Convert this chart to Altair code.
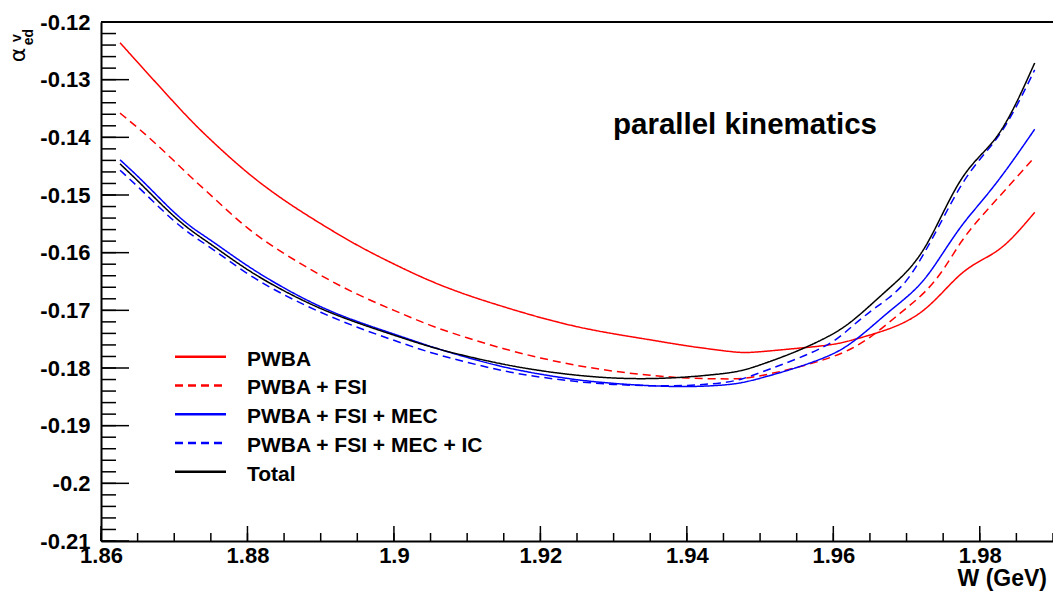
import altair as alt
import pandas as pd

# ---------------- data ----------------
W = [1.8626, 1.865, 1.8675, 1.87, 1.8725, 1.875, 1.88, 1.885, 1.89, 1.895,
     1.90, 1.905, 1.91, 1.915, 1.92, 1.925, 1.93, 1.935, 1.94, 1.945,
     1.9475, 1.95, 1.955, 1.96, 1.9625, 1.965, 1.9675, 1.97, 1.9725, 1.975,
     1.9775, 1.98, 1.9825, 1.985, 1.9875]

pwba = [-0.1236, -0.1270, -0.1305, -0.1340, -0.1374, -0.1405, -0.1463, -0.1510, -0.1550, -0.1588,
        -0.1620, -0.1650, -0.1674, -0.1694, -0.1713, -0.1729, -0.1741, -0.1751, -0.1762, -0.1770,
        -0.1774, -0.1772, -0.1766, -0.1760, -0.1752, -0.1743, -0.1733, -0.1720, -0.1700, -0.1668,
        -0.1634, -0.1614, -0.1598, -0.1568, -0.1530]

pwba_fsi = [-0.1358, -0.1383, -0.1411, -0.1441, -0.1472, -0.1500, -0.1560, -0.1602, -0.1640, -0.1673,
            -0.1700, -0.1727, -0.1748, -0.1767, -0.1783, -0.1796, -0.1806, -0.1813, -0.1818, -0.1819,
            -0.1819, -0.1814, -0.1800, -0.1781, -0.1767, -0.1748, -0.1722, -0.1696, -0.1670, -0.1632,
            -0.1578, -0.1540, -0.1505, -0.1470, -0.1434]

pwba_fsi_mec = [-0.1439, -0.1467, -0.1499, -0.1531, -0.1558, -0.1578, -0.1624, -0.1662, -0.1695, -0.1720,
                -0.1741, -0.1763, -0.1782, -0.1799, -0.1811, -0.1821, -0.1827, -0.1831, -0.1833, -0.1830,
                -0.1826, -0.1818, -0.1800, -0.1777, -0.1757, -0.1731, -0.1703, -0.1678, -0.1648, -0.1600,
                -0.1552, -0.1515, -0.1476, -0.1432, -0.1386]

pwba_fsi_mec_ic = [-0.1457, -0.1485, -0.1516, -0.1546, -0.1571, -0.1591, -0.1638, -0.1674, -0.1704, -0.1730,
                   -0.1752, -0.1774, -0.1790, -0.1806, -0.1816, -0.1824, -0.1829, -0.1831, -0.1831, -0.1826,
                   -0.1820, -0.1808, -0.1785, -0.1757, -0.1728, -0.1702, -0.1680, -0.1652, -0.1600, -0.1540,
                   -0.1480, -0.1437, -0.1402, -0.1348, -0.1283]

total = [-0.1446, -0.1475, -0.1507, -0.1538, -0.1564, -0.1585, -0.1631, -0.1667, -0.1698, -0.1722,
         -0.1743, -0.1764, -0.1780, -0.1794, -0.1805, -0.1813, -0.1818, -0.1819, -0.1816, -0.1810,
         -0.1805, -0.1795, -0.1772, -0.1742, -0.1720, -0.1692, -0.1663, -0.1635, -0.1595, -0.1530,
         -0.1468, -0.1432, -0.1400, -0.1342, -0.1271]

series_names = ["PWBA", "PWBA + FSI", "PWBA + FSI + MEC", "PWBA + FSI + MEC + IC", "Total"]
series_values = [pwba, pwba_fsi, pwba_fsi_mec, pwba_fsi_mec_ic, total]
series_colors = ["#ff0000", "#ff0000", "#0000ff", "#0000ff", "#000000"]
series_dashes = [[1, 0], [8, 5], [1, 0], [8, 5], [1, 0]]

x_major = [1.86, 1.88, 1.90, 1.92, 1.94, 1.96, 1.98]
x_minor = [round(1.86 + 0.005 * i, 3) for i in range(27)]
y_major = [-0.21, -0.20, -0.19, -0.18, -0.17, -0.16, -0.15, -0.14, -0.13, -0.12]
y_minor = [round(-0.21 + 0.002 * i, 3) for i in range(46)]

# ---------------- layout ----------------
PW, PH = 952, 519
FONT = "Liberation Sans"

rows = []
for name, vals in zip(series_names, series_values):
    for w, v in zip(W, vals):
        rows.append({"W": w, "alpha": v, "series": name})
df = pd.DataFrame(rows)

xscale = alt.Scale(domain=[1.86, 1.99], nice=False, zero=False)
yscale = alt.Scale(domain=[-0.21, -0.12], nice=False, zero=False)

x_axis = alt.Axis(values=x_major, title=None, ticks=False, grid=False,
                  domainColor="black", domainWidth=2,
                  labelExpr="format(datum.value, '.3~f')",
                  labelFont=FONT, labelFontSize=22, labelFontWeight="bold",
                  labelColor="black", labelPadding=4, labelFlush=False, labelOverlap=False)
y_axis = alt.Axis(values=y_major, title=None, ticks=False, grid=False,
                  domainColor="black", domainWidth=2,
                  labelExpr="'-' + format(abs(datum.value), '.3~f')",
                  labelFont=FONT, labelFontSize=22, labelFontWeight="bold",
                  labelColor="black", labelPadding=11, labelFlush=False, labelOverlap=False)

lines = alt.Chart(df).mark_line(strokeWidth=1.5, interpolate="basis").encode(
    x=alt.X("W:Q", scale=xscale, axis=x_axis),
    y=alt.Y("alpha:Q", scale=yscale, axis=y_axis),
    color=alt.Color("series:N", scale=alt.Scale(domain=series_names, range=series_colors), legend=None),
    strokeDash=alt.StrokeDash("series:N", scale=alt.Scale(domain=series_names, range=series_dashes), legend=None),
    detail="series:N",
)

# inward ticks
ymaj = alt.Chart(pd.DataFrame({"v": y_major})).mark_rule(color="black", strokeWidth=1.5).encode(
    y=alt.Y("v:Q", scale=yscale, axis=y_axis), x=alt.value(0), x2=alt.value(28))
ymin = alt.Chart(pd.DataFrame({"v": y_minor})).mark_rule(color="black", strokeWidth=1.5).encode(
    y=alt.Y("v:Q", scale=yscale, axis=y_axis), x=alt.value(0), x2=alt.value(15))
xmaj = alt.Chart(pd.DataFrame({"v": x_major})).mark_rule(color="black", strokeWidth=1.5).encode(
    x=alt.X("v:Q", scale=xscale, axis=x_axis), y=alt.value(PH), y2=alt.value(PH - 15))
xmin = alt.Chart(pd.DataFrame({"v": x_minor})).mark_rule(color="black", strokeWidth=1.5).encode(
    x=alt.X("v:Q", scale=xscale, axis=x_axis), y=alt.value(PH), y2=alt.value(PH - 8))

one = pd.DataFrame({"a": [0]})
top_line = alt.Chart(one).mark_rule(color="black", strokeWidth=2).encode(
    x=alt.value(0), x2=alt.value(PW), y=alt.value(0))

# legend
legend_layers = []
for i, (name, col, dash) in enumerate(zip(series_names, series_colors, series_dashes)):
    ly = 334.7 + i * 28.75
    legend_layers.append(
        alt.Chart(one).mark_rule(color=col, strokeWidth=2.5, strokeDash=dash).encode(
            x=alt.value(74), x2=alt.value(125), y=alt.value(ly)))
    legend_layers.append(
        alt.Chart(one).mark_text(align="left", baseline="middle", font=FONT, fontSize=21,
                                 fontWeight="bold", color="black").encode(
            x=alt.value(146), y=alt.value(ly + 3), text=alt.value(name)))

annot = alt.Chart(one).mark_text(align="center", baseline="alphabetic", font=FONT, fontSize=29.5,
                                 fontWeight="bold", color="black").encode(
    x=alt.value(644), y=alt.value(112), text=alt.value("parallel kinematics"))

xtitle = alt.Chart(one).mark_text(align="right", baseline="alphabetic", font=FONT, fontSize=23,
                                  fontWeight="bold", color="black").encode(
    x=alt.value(946), y=alt.value(564), text=alt.value("W (GeV)"))

ytitle_a = alt.Chart(one).mark_text(align="center", baseline="middle", font="DejaVu Sans", fontSize=22,
                                    angle=270, color="black").encode(
    x=alt.value(-83), y=alt.value(33), text=alt.value("α"))
ytitle_v = alt.Chart(one).mark_text(align="center", baseline="middle", font=FONT, fontSize=14,
                                    fontWeight="bold", angle=270, color="black").encode(
    x=alt.value(-84), y=alt.value(16), text=alt.value("v"))
ytitle_ed = alt.Chart(one).mark_text(align="center", baseline="middle", font=FONT, fontSize=14,
                                     fontWeight="bold", angle=270, color="black").encode(
    x=alt.value(-72), y=alt.value(15), text=alt.value("ed"))

chart = alt.layer(
    lines, ymaj, ymin, xmaj, xmin, top_line, *legend_layers, annot, xtitle,
    ytitle_a, ytitle_v, ytitle_ed
).properties(
    width=PW, height=PH,
    autosize=alt.AutoSizeParams(type="none"),
    padding={"left": 101, "top": 22, "right": 0, "bottom": 52},
    background="white",
).configure_view(stroke=None)

chart.save("out.html", embed_options={"renderer": "svg", "actions": False})
